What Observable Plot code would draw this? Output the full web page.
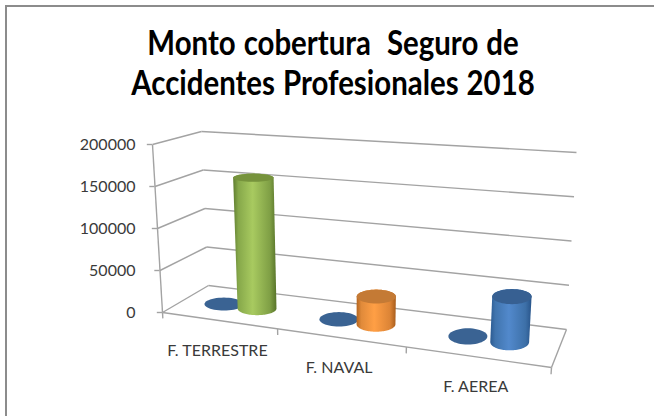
<!DOCTYPE html>
<html lang="es">
<head>
<meta charset="utf-8">
<script src="https://cdn.jsdelivr.net/npm/d3@7"></script>
<script src="https://cdn.jsdelivr.net/npm/@observablehq/plot@0.6"></script>
<style>
html,body{margin:0;padding:0;background:#fff;overflow:hidden}
#page{position:relative;width:654px;height:416px;overflow:hidden;font-family:Lato,"Open Sans",sans-serif}
#frame{position:absolute;left:5px;top:5px;width:670px;height:430px;border-left:2px solid #8c8c8c;border-top:2px solid #8c8c8c}
#title{position:relative;height:118px;box-sizing:border-box;padding:21px 0 0 12px;text-align:center;color:#000;font-weight:700;font-size:35px;word-spacing:1px;line-height:40px;white-space:pre;transform:scaleX(.84);transform-origin:333px 50%}
#chart svg{display:block;background:transparent}
</style>
</head>
<body>
<div id="page">
<div id="frame"></div>
<div id="title"></div>
<div id="chart"></div>
</div>
<script>
const titleLines = ["Monto cobertura  Seguro de", "Accidentes Profesionales 2018"];
const categories = ["F. TERRESTRE", "F. NAVAL", "F. AEREA"];
const serieA = [0, 0, 0];
const serieB = [158000, 32000, 50000];
const yTicks = [0, 50000, 100000, 150000, 200000];
const bodyColors = [
  ["#5f7d2f", "#86a84a", "#a8ca60", "#7f9f45", "#587429"],
  ["#b5661f", "#e08a3a", "#ff9f45", "#dc8436", "#a85d1c"],
  ["#2b5a90", "#4074ad", "#5289cc", "#3d70a8", "#28548a"]
];
const topColors = ["#76933c", "#c47a35", "#376092"];
const flatColor = "#3a6393";
const gridColor = "#a3a3a3";
const textColor = "#3a3a3a";

// View of the 3D box (page pixels of its corners): floor and ceiling, front and back.
const view = {
  floor: {FL: [162, 312], BL: [208, 285], FR: [551, 367], BR: [566, 329]},
  ceil:  {FL: [152, 144], BL: [201, 131], FR: [564, 175], BR: [576, 152]},
  perspective: 1.19, barRx: 0.052, barW: 0.23, slotA: 0.36, slotB: 0.66,
  chartTop: 118
};
const maxV = 200000;
const mix = (a, b, t) => a + (b - a) * t;
// u: category axis 0..3, w: depth 0 (front)..1 (back), v: value
function project(u, w, v) {
  const s = u / 3, su = s / (s + view.perspective * (1 - s)), t = v / maxV;
  const at = (c, i) => mix(mix(c.FL[i], c.FR[i], su), mix(c.BL[i], c.BR[i], su), w);
  const px = mix(at(view.floor, 0), at(view.ceil, 0), t);
  const py = mix(at(view.floor, 1), at(view.ceil, 1), t);
  // page pixels expressed in the units of the plot's x and y scales
  return {x: (px - 162) / (551 - 162) * 3, y: (312 - py) / (312 - 144) * maxV};
}
function ellipse(u, v, from, to) {
  const c = project(u, 0.5, v);
  const rx = view.barRx * (project(3, 0.5, v).x - project(0, 0.5, v).x);
  const ry = Math.abs(project(u, 0.5 + view.barW, v).y - project(u, 0.5 - view.barW, v).y) / 2;
  const pts = [];
  for (let i = 0; i <= 48; i++) {
    const a = from + (to - from) * i / 48;
    pts.push({x: c.x + rx * Math.cos(a), y: c.y + ry * Math.sin(a)});
  }
  return pts;
}
const link = (a, b) => ({x1: a.x, y1: a.y, x2: b.x, y2: b.y});
const grid = yTicks.flatMap(v => [
  link(project(0, 1, v), project(3, 1, v)),
  link(project(0, 0, v), project(0, 1, v))
]);
const frameLines = [
  link(project(0, 0, 0), project(0, 0, maxV)),
  link(project(0, 0, 0), project(3, 0, 0)),
  link(project(3, 0, 0), project(3, 1, 0))
];
const catTicks = [0, 1, 2, 3].map(i => link(project(i, 0, 0), project(i, 0, -7000)));
const labels = categories.map((name, i) => ({name, ...project(i + 0.5, 0, 0)}));

const cylMarks = categories.flatMap((name, i) => {
  const uA = i + view.slotA, uB = i + view.slotB, v = serieB[i];
  // lower half of the base, then upper half of the top (the y scale points up)
  const body = [...ellipse(uB, 0, Math.PI, 2 * Math.PI), ...ellipse(uB, v, 0, Math.PI)];
  return [
    Plot.line(ellipse(uA, serieA[i], 0, 2 * Math.PI), {x: "x", y: "y", fill: flatColor, stroke: "none"}),
    Plot.line(body, {x: "x", y: "y", fill: `url(#body${i})`, stroke: "none"}),
    Plot.line(ellipse(uB, v, 0, 2 * Math.PI), {x: "x", y: "y", fill: topColors[i], stroke: "none"})
  ];
});

function gradients() {
  const ns = "http://www.w3.org/2000/svg";
  const defs = document.createElementNS(ns, "defs");
  bodyColors.forEach((c, i) => {
    const g = document.createElementNS(ns, "linearGradient");
    g.setAttribute("id", `body${i}`);
    [0, 0.12, 0.45, 0.85, 1].forEach((o, k) => {
      const s = document.createElementNS(ns, "stop");
      s.setAttribute("offset", o);
      s.setAttribute("stop-color", c[k]);
      g.appendChild(s);
    });
    defs.appendChild(g);
  });
  return defs;
}

document.getElementById("title").textContent = titleLines.join("\n");
const H = 416 - view.chartTop;
const chart = Plot.plot({
  width: 654,
  height: H,
  marginLeft: 162,
  marginRight: 654 - 551,
  marginTop: 144 - view.chartTop,
  marginBottom: view.chartTop + H - 312,
  style: {fontFamily: "Lato, sans-serif", overflow: "visible"},
  x: {domain: [0, 3], axis: null},
  y: {domain: [0, maxV], axis: null},
  marks: [
    gradients,
    Plot.link(grid, {x1: "x1", y1: "y1", x2: "x2", y2: "y2", stroke: gridColor, strokeWidth: 1.4}),
    Plot.link(frameLines, {x1: "x1", y1: "y1", x2: "x2", y2: "y2", stroke: gridColor, strokeWidth: 1.4}),
    Plot.link(catTicks, {x1: "x1", y1: "y1", x2: "x2", y2: "y2", stroke: gridColor, strokeWidth: 1.4}),
    Plot.ruleY(yTicks, {y: d => d, x1: d => project(0, 0, d).x, x2: d => project(0, 0, d).x - 0.04, stroke: gridColor, strokeWidth: 1.4}),
    ...cylMarks,
    Plot.axisY({ticks: yTicks, tickSize: 0, tickPadding: 27, tickFormat: "d", label: null, fontSize: 16, color: textColor}),
    Plot.text(labels, {x: "x", y: "y", text: "name", dy: 30, dx: -1, fontSize: 16, fill: textColor})
  ]
});
document.getElementById("chart").appendChild(chart);
</script>
</body>
</html>
